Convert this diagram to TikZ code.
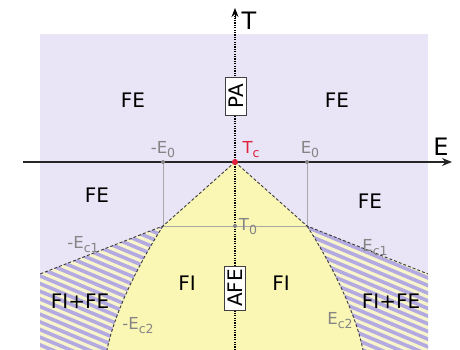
\documentclass[tikz,border=0pt]{standalone}
\usepackage{fontspec}
\setmainfont{DejaVu Sans}
\usetikzlibrary{arrows.meta}
\definecolor{lav}{HTML}{E9E4F6}
\definecolor{yel}{HTML}{FAF6B4}
\definecolor{stripeA}{HTML}{B2AAE0}
\definecolor{stripeB}{HTML}{F8F5CC}
\definecolor{lblgrey}{HTML}{858585}
\definecolor{tcred}{HTML}{E0203C}
\definecolor{guide}{HTML}{A8A8A8}
\definecolor{bnd}{HTML}{3A3A3A}
\newcommand\lowidx[1]{\raisebox{-0.45ex}{\fontsize{12.5}{12.5}\selectfont #1}}
\tikzset{
 region/.style={font=\fontsize{20}{20}\selectfont, inner sep=0pt},
 axislbl/.style={font=\fontsize{24}{24}\selectfont, inner sep=0pt},
 val/.style={font=\fontsize{16.5}{16.5}\selectfont, text=lblgrey, inner sep=0pt},
 boundary/.style={draw=bnd, line width=0.9pt, dash pattern=on 3pt off 2pt},
 guideline/.style={draw=guide, line width=0.8pt},
 phasebox/.style={draw=black!75, fill=white, line width=0.8pt, rotate=90, inner xsep=3pt, inner ysep=3pt, font=\fontsize{20}{20}\selectfont},
 stripes/.style={draw=stripeA, line width=3.6pt},
}
\begin{document}
\begin{tikzpicture}[x=1pt,y=-1pt]
\useasboundingbox (0,0) rectangle (460,350);
% key points
\coordinate (Tc) at (235,162);
\coordinate (L0) at (163,226);
\coordinate (R0) at (307,226);
\coordinate (T0) at (235,226);
\coordinate (mE0) at (163,162);
\coordinate (pE0) at (307,162);
\coordinate (Lc1) at (40,274);
\coordinate (Rc1) at (428,274);
\coordinate (Lc2) at (107,350);
\coordinate (Rc2) at (363,350);
% background
\fill[lav] (40,34) rectangle (428,350);
% yellow FI region
\fill[yel] (Tc) -- (L0) .. controls (141,260) and (115,310) .. (Lc2) -- (Rc2) .. controls (355,310) and (329,260) .. (R0) -- cycle;
% hatched FI+FE regions
\begin{scope}
\clip (L0) -- (Lc1) -- (40,350) -- (Lc2) .. controls (115,310) and (141,260) .. (L0) -- cycle;
\fill[stripeB] (0,150) rectangle (460,350);
\foreach \k in {0,...,45} \draw[stripes] (0,{60+\k*7.66}) -- ++(460,193);
\end{scope}
\begin{scope}
\clip (R0) -- (Rc1) -- (428,350) -- (Rc2) .. controls (355,310) and (329,260) .. (R0) -- cycle;
\fill[stripeB] (0,150) rectangle (460,350);
\foreach \k in {0,...,45} \draw[stripes] (0,{60+\k*7.66}) -- ++(460,193);
\end{scope}
% guide lines
\draw[guideline] (mE0) -- (L0) -- (R0) -- (pE0);
% boundaries
\draw[boundary] (Tc) -- (L0) -- (Lc1);
\draw[boundary] (Tc) -- (R0) -- (Rc1);
\draw[boundary] (L0) .. controls (141,260) and (115,310) .. (Lc2);
\draw[boundary] (R0) .. controls (329,260) and (355,310) .. (Rc2);
% axes
\coordinate (Estart) at (23,162);
\coordinate (Eend) at (452,162);
\coordinate (Tstart) at (235,350);
\coordinate (Tend) at (235,8);
\draw[black!85, line width=1.5pt, -{Stealth[length=10pt,width=8pt]}] (Estart) -- (Eend);
\draw[black, line width=1.8pt, dash pattern=on 1.2pt off 1.2pt] (Tstart) -- (235,16);
\draw[black, line width=1pt, -{Stealth[length=9pt,width=7pt]}] (235,18) -- (Tend);
% dots
\fill[guide!80!black] (mE0) circle (2pt) (pE0) circle (2pt) (T0) circle (2pt);
\fill[tcred] (Tc) circle (3pt);
% labels
\node[axislbl] (lE) at (441,147) {E};
\node[axislbl] (lT) at (249,21) {T};
\node[region] (fe1) at (133,100) {FE};
\node[region] (fe2) at (337,100) {FE};
\node[region] (fe3) at (97,195) {FE};
\node[region] (fe4) at (370,201) {FE};
\node[region] (fi1) at (187,283) {FI};
\node[region] (fi2) at (281,283) {FI};
\node[region] (fife1) at (80,301) {FI+FE};
\node[region] (fife2) at (391,301) {FI+FE};
\node[val] (lmE0) at (163,150) {-E\lowidx{0}};
\node[val] (lpE0) at (310,150) {E\lowidx{0}};
\node[val, text=tcred] (lTc) at (251,150) {T\lowidx{c}};
\node[val] (lT0) at (248,227) {T\lowidx{0}};
\node[val] (lmEc1) at (83,245) {-E\lowidx{c1}};
\node[val] (lpEc1) at (375,248) {E\lowidx{c1}};
\node[val] (lmEc2) at (138,326) {-E\lowidx{c2}};
\node[val] (lpEc2) at (340,321) {E\lowidx{c2}};
\node[phasebox, minimum width=38pt] (pa) at (236,96) {PA};
\node[phasebox] (afe) at (235,288) {AFE};
\end{tikzpicture}
\end{document}
